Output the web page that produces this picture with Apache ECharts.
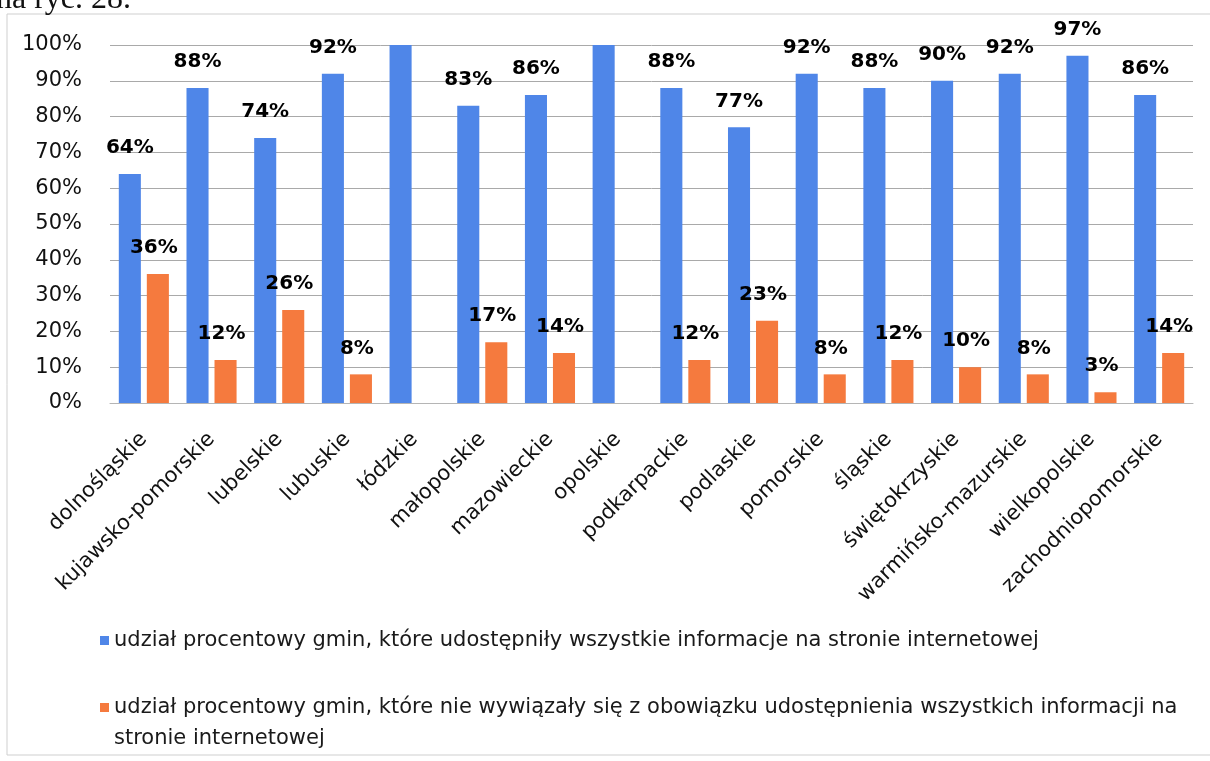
<!DOCTYPE html>
<html>
<head>
<meta charset="utf-8">
<script src="https://cdn.jsdelivr.net/npm/echarts@6/dist/echarts.min.js"></script>
<style>
html,body{margin:0;padding:0;background:#fff;}
#chart{width:1210px;height:761px;}
</style>
</head>
<body>
<div id="chart"></div>
<script>
const categories = ['dolnośląskie','kujawsko-pomorskie','lubelskie','lubuskie','łódzkie','małopolskie','mazowieckie','opolskie','podkarpackie','podlaskie','pomorskie','śląskie','świętokrzyskie','warmińsko-mazurskie','wielkopolskie','zachodniopomorskie'];
const sharedAll = [64,88,74,92,100,83,86,100,88,77,92,88,90,92,97,86];
const sharedNotAll = [36,12,26,8,null,17,14,null,12,23,8,12,10,8,3,14];
const yTicks = [0,10,20,30,40,50,60,70,80,90,100];
const seriesNames = [
  'udział procentowy gmin, które udostępniły wszystkie informacje na stronie internetowej',
  'udział procentowy gmin, które nie wywiązały się z obowiązku udostępnienia wszystkich informacji na'
];
const legendContinuation = 'stronie internetowej';
const pageCaption = 'na ryc. 28.';

const FONT = 'DejaVu Sans';
const chart = echarts.init(document.getElementById('chart'));
chart.setOption({
  animation: false,
  backgroundColor: '#fff',
  graphic: [
    {type:'rect', shape:{x:7,y:14,width:1220,height:741}, style:{fill:'none', stroke:'#cfcfcf', lineWidth:1}, silent:true},
    {type:'text', left:-4, top:-16, style:{text:pageCaption, font:'32px "Liberation Serif"', fill:'#111'}, silent:true},
    {type:'text', left:114, top:728, style:{text:legendContinuation, font:'21px "DejaVu Sans"', fill:'#1a1a1a'}, silent:true}
  ],
  grid: {left:110, right:17, top:45, bottom:358, containLabel:false},
  legend: [
    {data:[seriesNames[0]], left:100, top:630, itemWidth:9, itemHeight:9, icon:'rect', itemGap:0, padding:0,
     textStyle:{fontFamily:FONT, fontSize:21, color:'#1a1a1a'}},
    {data:[seriesNames[1]], left:100, top:697, itemWidth:9, itemHeight:9, icon:'rect', itemGap:0, padding:0,
     textStyle:{fontFamily:FONT, fontSize:21, color:'#1a1a1a'}}
  ],
  xAxis: {
    type:'category', data:categories,
    axisLine:{lineStyle:{color:'#b5b5b5', width:1}},
    axisTick:{show:false},
    axisLabel:{interval:0, rotate:45, margin:33, fontFamily:FONT, fontSize:21, color:'#111'}
  },
  yAxis: {
    type:'value', min:0, max:100, interval:10,
    axisLine:{show:false}, axisTick:{show:false},
    splitLine:{lineStyle:{color:'#a9a9a9', width:1}},
    axisLabel:{margin:28, fontFamily:FONT, fontSize:21, color:'#111',
      formatter: v => yTicks.includes(v) ? v + '%' : ''}
  },
  series: [
    {name:seriesNames[0], type:'bar', data:sharedAll, barGap:'27%', barCategoryGap:'26%',
     itemStyle:{color:'#4f86e8'},
     label:{show:true, position:'top', distance:16, fontFamily:FONT, fontWeight:'bold', fontSize:20, color:'#000',
       formatter: p => p.value >= 100 ? '' : p.value + '%'}},
    {name:seriesNames[1], type:'bar', data:sharedNotAll,
     itemStyle:{color:'#f57a3e'},
     label:{show:true, position:'top', distance:16, offset:[-4,0], fontFamily:FONT, fontWeight:'bold', fontSize:20, color:'#000',
       formatter: p => p.value + '%'}}
  ]
});
</script>
</body>
</html>
